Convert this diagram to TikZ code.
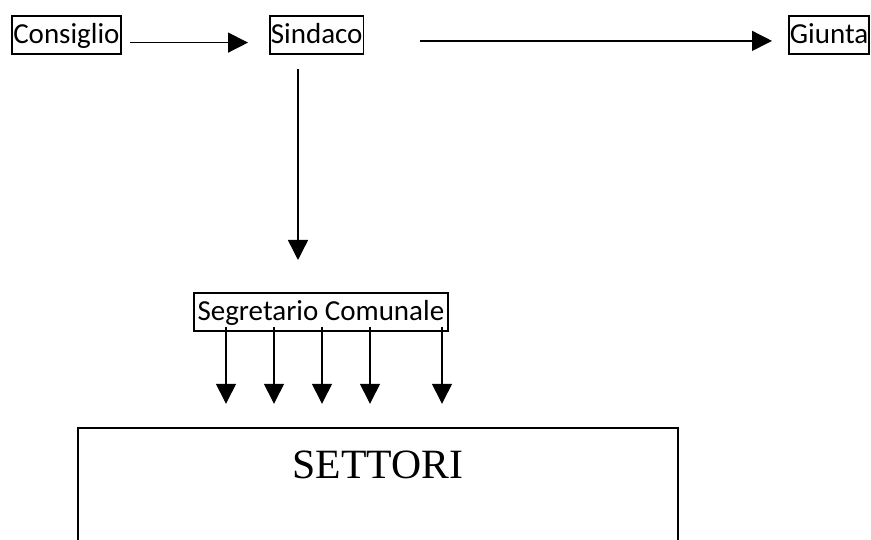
\documentclass[tikz,border=0pt]{standalone}
\usepackage{fontspec}
\setmainfont{Carlito}
\newfontfamily\serifface{Liberation Serif}
\usetikzlibrary{arrows.meta}
\begin{document}
\begin{tikzpicture}[x=1pt,y=-1pt,
  lbl/.style={draw, line width=1.8pt, inner xsep=1pt, inner ysep=0pt,
    text height=28pt, text depth=10pt, anchor=north west,
    font=\fontsize{29}{31}\selectfont},
  arr/.style={line width=1.4pt, -{Triangle[length=20pt,width=20pt]}}]
\clip (0,0) rectangle (871,540);
\fill[white] (0,0) rectangle (871,540);
\node[lbl, minimum width=109pt] (cons) at (11,15) {Consiglio};
\node[lbl, minimum width=92pt] (sind) at (269,15) {Sindaco};
\node[lbl, minimum width=80pt] (giun) at (788,15) {Giunta};
\node[lbl, minimum width=254pt] (seg) at (193,292) {Segretario Comunale};
\node[draw, line width=1.7pt, anchor=north west, minimum width=600pt,
  inner xsep=0pt, inner ysep=0pt, text height=51pt, text depth=200pt,
  font=\serifface\fontsize{41.7}{44}\selectfont] (sett) at (77,427) {SETTORI};
\coordinate (segin) at (298,260);
\draw[arr] ([xshift=8pt,yshift=-7.7pt]cons.east) -- ([xshift=-21pt,yshift=-7.7pt]sind.west);
\draw[arr] ([xshift=56pt,yshift=-6pt]sind.east) -- ([xshift=-16pt,yshift=-6pt]giun.west);
\draw[arr] ([yshift=-14pt]segin |- sind.south) -- (segin);
\foreach \dx in {33,81,129,177,249}{
  \draw[arr] (seg.south west) ++(\dx,-5) -- ++(0,77);
}
\end{tikzpicture}
\end{document}
